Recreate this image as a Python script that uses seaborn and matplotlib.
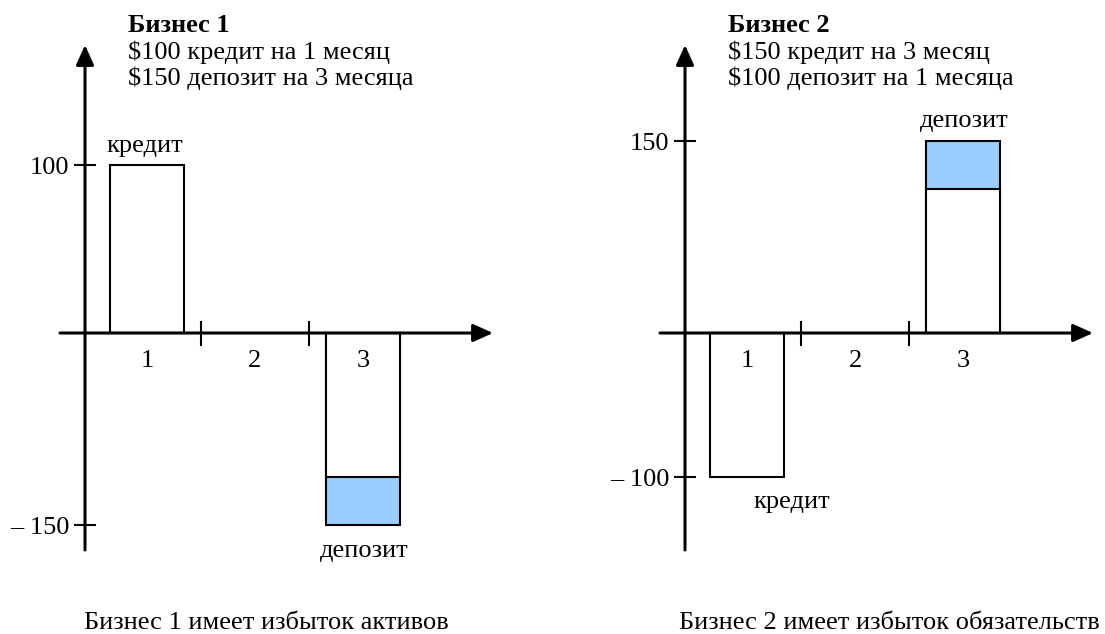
import numpy as np
import pandas as pd
import matplotlib
matplotlib.use("Agg")
import matplotlib.pyplot as plt
import seaborn as sns

sns.set_theme(style="white")
plt.rcParams['font.family'] = ['Liberation Serif', 'DejaVu Serif']
plt.rcParams['text.color'] = 'black'
plt.rcParams['xtick.color'] = 'black'
plt.rcParams['ytick.color'] = 'black'
plt.rcParams['xtick.labelcolor'] = 'black'
plt.rcParams['ytick.labelcolor'] = 'black'

# ---------------- data ----------------
periods = ["1", "2", "3"]

b1_title = "Бизнес 1"
b1_lines = ["$100 кредит на 1 месяц", "$150 депозит на 3 месяца"]
b1_loan_period = "1"
b1_loan = 100
b1_dep_period = "3"
b1_dep_total = -150
b1_dep_matched = -100
b1_yticks = [100, -150]
b1_yticklabels = ["100", "– 150"]
b1_caption = "Бизнес 1 имеет избыток активов"

b2_title = "Бизнес 2"
b2_lines = ["$150 кредит на 3 месяц", "$100 депозит на 1 месяца"]
b2_loan_period = "1"
b2_loan = -100
b2_dep_period = "3"
b2_dep_total = 150
b2_dep_matched = 100
b2_yticks = [150, -100]
b2_yticklabels = ["150", "– 100"]
b2_caption = "Бизнес 2 имеет избыток обязательств"

label_loan = "кредит"
label_dep = "депозит"

BLUE = "#99CCFF"
FS = 19


def make_scale(pk1, pk2, nk1, nk2, knee=100.0):
    """schematic (piecewise linear) value axis"""
    def g(a, k1, k2):
        return np.where(a <= knee, a * k1, knee * k1 + (a - knee) * k2)

    def ginv(t, k1, k2):
        return np.where(t <= knee * k1, t / k1, knee + (t - knee * k1) / k2)

    def fwd(v):
        v = np.asarray(v, dtype=float)
        a = np.abs(v)
        return np.where(v >= 0, g(a, pk1, pk2), -g(a, nk1, nk2))

    def inv(t):
        t = np.asarray(t, dtype=float)
        a = np.abs(t)
        return np.where(t >= 0, ginv(a, pk1, pk2), -ginv(a, nk1, nk2))

    return fwd, inv


W, H = 1105, 634
fig = plt.figure(figsize=(W / 100, H / 100), dpi=100)

# axes pixel geometry: x 20..500 (offset 600 for the right panel), y 10..600
AX_L, AX_W = 20, 480
AX_T, AX_B = 10, 600
X0_PIX, X_UNIT = 147, 108.0  # period "1" centre and pixel per period
AXIS_Y = 333


def panel(offset, title, lines, loan_p, loan, dep_p, dep_total, dep_matched,
          yticks, yticklabels, scale, loan_lbl, dep_lbl):
    ax = fig.add_axes([(AX_L + offset) / W, (H - AX_B) / H, AX_W / W, (AX_B - AX_T) / H])
    fwd, inv = scale
    ax.set_yscale("function", functions=(fwd, inv))
    ax.set_axisbelow(False)

    dep_df = pd.DataFrame({"period": [dep_p], "value": [dep_total]})
    match_df = pd.DataFrame({"period": [dep_p], "value": [dep_matched]})
    loan_df = pd.DataFrame({"period": [loan_p], "value": [loan]})

    kw = dict(order=periods, width=0.68, edgecolor="black", linewidth=1.5,
              errorbar=None, ax=ax, zorder=1, saturation=1)
    sns.barplot(data=dep_df, x="period", y="value", color=BLUE, **kw)
    sns.barplot(data=match_df, x="period", y="value", color="white", **kw)
    sns.barplot(data=loan_df, x="period", y="value", color="white", **kw)

    def px2x(px):
        return (px - X0_PIX) / X_UNIT

    ax.set_xlim(px2x(AX_L), px2x(AX_L + AX_W))
    ax.set_ylim(inv(AXIS_Y - AX_B), inv(AXIS_Y - AX_T))
    ax.set_xlabel("")
    ax.set_ylabel("")

    yx = px2x(85)
    for s in ax.spines.values():
        s.set_visible(False)
    ax.spines["left"].set_position(("data", yx))
    ax.spines["bottom"].set_position(("data", 0))

    # axes with arrows
    arrow = dict(arrowstyle="-|>,head_length=0.6,head_width=0.27", color="black",
                 lw=2.2, mutation_scale=20, shrinkA=0, shrinkB=0)
    ax.annotate("", xy=(yx, inv(AXIS_Y - 45)), xytext=(yx, inv(AXIS_Y - 550)),
                arrowprops=arrow, annotation_clip=False, zorder=3)
    ax.annotate("", xy=(px2x(493), 0), xytext=(px2x(60), 0),
                arrowprops=arrow, annotation_clip=False, zorder=3)

    ax.set_yticks(yticks, labels=yticklabels)
    ax.tick_params(axis="y", direction="inout", length=16.5, width=1.5,
                   color="black", labelsize=FS, pad=3, left=True)
    ax.set_xticks([0.5, 1.5], labels=["", ""])
    ax.set_xticks(range(len(periods)), labels=periods, minor=True)
    ax.tick_params(axis="x", which="major", direction="inout", length=18,
                   width=1.5, color="black", bottom=True)
    ax.tick_params(axis="x", which="minor", length=0, pad=12, labelsize=FS)
    ax.grid(False)
    ax.set_facecolor("none")

    # bar labels (pixel anchors)
    ax.text(px2x(loan_lbl[0]), inv(AXIS_Y - loan_lbl[1]), label_loan,
            ha="center", va="center", fontsize=FS, zorder=4)
    ax.text(px2x(dep_lbl[0]), inv(AXIS_Y - dep_lbl[1]), label_dep,
            ha="center", va="center", fontsize=FS, zorder=4)

    # header text
    fig.text((128 + offset) / W, 1 - 32 / H, title, fontsize=FS, fontweight="bold",
             ha="left", va="baseline")
    for i, ln in enumerate(lines):
        fig.text((128 + offset) / W, 1 - (58.5 + 26.5 * i) / H, ln, fontsize=FS,
                 ha="left", va="baseline")
    return ax


panel(0, b1_title, b1_lines, b1_loan_period, b1_loan, b1_dep_period, b1_dep_total,
      b1_dep_matched, b1_yticks, b1_yticklabels,
      make_scale(1.68, 1.68, 1.44, 0.96), (145, 146), (364, 551))
panel(600, b2_title, b2_lines, b2_loan_period, b2_loan, b2_dep_period, b2_dep_total,
      b2_dep_matched, b2_yticks, b2_yticklabels,
      make_scale(1.44, 0.96, 1.44, 1.44), (192, 502), (364, 121))

fig.text(266 / W, 1 - 629 / H, b1_caption, fontsize=FS, ha="center", va="baseline")
fig.text(889 / W, 1 - 629 / H, b2_caption, fontsize=FS, ha="center", va="baseline")

fig.savefig("out.png", dpi=100, facecolor="white")
